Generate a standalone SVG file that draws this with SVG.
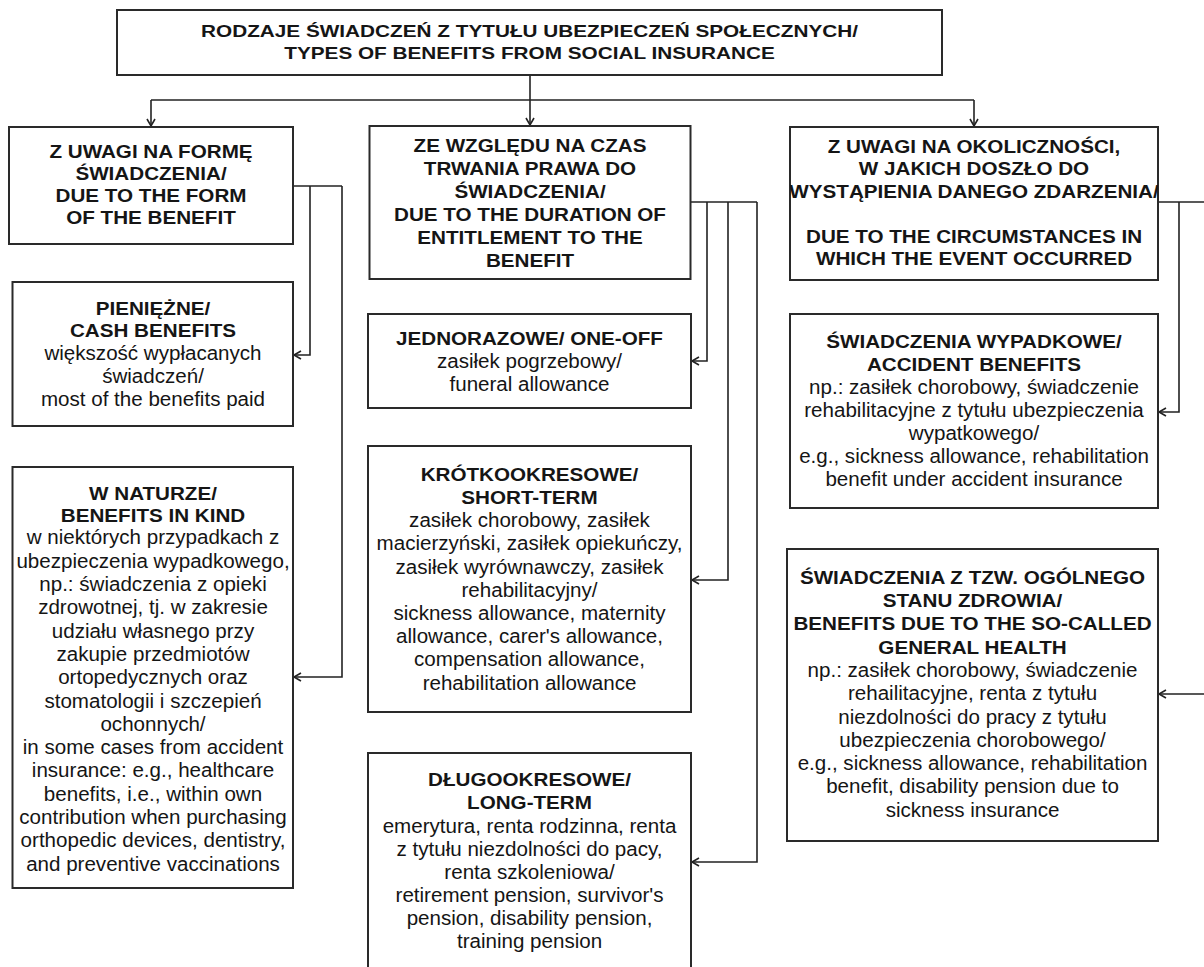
<svg xmlns="http://www.w3.org/2000/svg" width="1204" height="967" viewBox="0 0 1204 967">
<style>
.box{fill:#fff;stroke:#2a2a2a;stroke-width:2}
.c{fill:none;stroke:#222;stroke-width:1.6}
.t{font-family:"Liberation Sans",Arial,sans-serif;fill:#151515;text-anchor:middle}
.h{font-weight:bold;font-size:18.6px}
.top{font-weight:bold;font-size:17.3px}
.b{font-size:19.6px}
</style>
<defs>
<marker id="ar" markerUnits="userSpaceOnUse" markerWidth="12" markerHeight="12" viewBox="-10 -6 12 12" refX="0" refY="0" orient="auto">
<path d="M-7,-4 L0,0 L-7,4" fill="none" stroke="#222" stroke-width="1.6"/>
</marker>
<clipPath id="cr"><rect x="790" y="127" width="368" height="153"/></clipPath>
</defs>
<rect width="1204" height="967" fill="#fff"/>

<g id="connectors">
<path class="c" d="M530,75 V100"/>
<path class="c" d="M151,100 H974"/>
<path class="c" d="M151,100 V126" marker-end="url(#ar)"/>
<path class="c" d="M530,100 V125" marker-end="url(#ar)"/>
<path class="c" d="M974,100 V126" marker-end="url(#ar)"/>
<path class="c" d="M293,186 H342"/>
<path class="c" d="M310,186 V355 H294" marker-end="url(#ar)"/>
<path class="c" d="M342,186 V677 H294" marker-end="url(#ar)"/>
<path class="c" d="M691,202 H757"/>
<path class="c" d="M707,202 V361 H692" marker-end="url(#ar)"/>
<path class="c" d="M728,202 V580 H692" marker-end="url(#ar)"/>
<path class="c" d="M757,202 V862 H692" marker-end="url(#ar)"/>
<path class="c" d="M1158,202 H1215"/>
<path class="c" d="M1179,202 V412 H1159" marker-end="url(#ar)"/>
<path class="c" d="M1212,202 V694 H1159" marker-end="url(#ar)"/>
</g>

<g id="n-root">
<rect class="box" x="117" y="10" width="825" height="65"/>
<g transform="translate(529.5 0) scale(1.2 1)" class="t top">
<text x="0" y="37.5">RODZAJE ŚWIADCZEŃ Z TYTUŁU UBEZPIECZEŃ SPOŁECZNYCH/</text>
<text x="0" y="59">TYPES OF BENEFITS FROM SOCIAL INSURANCE</text>
</g>
</g>

<g id="n-form">
<rect class="box" x="9" y="127" width="284" height="117"/>
<g transform="translate(151 0) scale(1.11 1)" class="t h">
<text x="0" y="158">Z UWAGI NA FORMĘ</text>
<text x="0" y="180">ŚWIADCZENIA/</text>
<text x="0" y="202">DUE TO THE FORM</text>
<text x="0" y="224">OF THE BENEFIT</text>
</g>
</g>

<g id="n-duration">
<rect class="box" x="369.5" y="126" width="321" height="153"/>
<g transform="translate(530 0) scale(1.11 1)" class="t h">
<text x="0" y="152">ZE WZGLĘDU NA CZAS</text>
<text x="0" y="175">TRWANIA PRAWA DO</text>
<text x="0" y="198">ŚWIADCZENIA/</text>
<text x="0" y="221">DUE TO THE DURATION OF</text>
<text x="0" y="244">ENTITLEMENT TO THE</text>
<text x="0" y="267">BENEFIT</text>
</g>
</g>

<g id="n-circ">
<rect class="box" x="790" y="127" width="368" height="153"/>
<g clip-path="url(#cr)">
<g transform="translate(974 0) scale(1.11 1)" class="t h">
<text x="0" y="153">Z UWAGI NA OKOLICZNOŚCI,</text>
<text x="0" y="175.5">W JAKICH DOSZŁO DO</text>
<text x="0" y="198">WYSTĄPIENIA DANEGO ZDARZENIA/</text>
<text x="0" y="243">DUE TO THE CIRCUMSTANCES IN</text>
<text x="0" y="265.5">WHICH THE EVENT OCCURRED</text>
</g>
</g>
</g>

<g id="n-cash">
<rect class="box" x="12.5" y="282" width="280.5" height="144"/>
<g transform="translate(153 0) scale(1.11 1)" class="t h">
<text x="0" y="315">PIENIĘŻNE/</text>
<text x="0" y="337.5">CASH BENEFITS</text>
</g>
<g transform="translate(153 0) scale(1.05 1)" class="t b">
<text x="0" y="360.5">większość wypłacanych</text>
<text x="0" y="383.5">świadczeń/</text>
<text x="0" y="406.5">most of the benefits paid</text>
</g>
</g>

<g id="n-kind">
<rect class="box" x="12.5" y="467" width="280.5" height="421"/>
<g transform="translate(153 0) scale(1.11 1)" class="t h">
<text x="0" y="500">W NATURZE/</text>
<text x="0" y="522">BENEFITS IN KIND</text>
</g>
<g transform="translate(153 0) scale(1.05 1)" class="t b">
<text x="0" y="544.5">w niektórych przypadkach z</text>
<text x="0" y="567.8">ubezpieczenia wypadkowego,</text>
<text x="0" y="591.1">np.: świadczenia z opieki</text>
<text x="0" y="614.4">zdrowotnej, tj. w zakresie</text>
<text x="0" y="637.7">udziału własnego przy</text>
<text x="0" y="661">zakupie przedmiotów</text>
<text x="0" y="684.3">ortopedycznych oraz</text>
<text x="0" y="707.6">stomatologii i szczepień</text>
<text x="0" y="730.9">ochonnych/</text>
<text x="0" y="754.2">in some cases from accident</text>
<text x="0" y="777.5">insurance: e.g., healthcare</text>
<text x="0" y="800.8">benefits, i.e., within own</text>
<text x="0" y="824.1">contribution when purchasing</text>
<text x="0" y="847.4">orthopedic devices, dentistry,</text>
<text x="0" y="870.7">and preventive vaccinations</text>
</g>
</g>

<g id="n-oneoff">
<rect class="box" x="368" y="314" width="323" height="94"/>
<g transform="translate(529.5 0) scale(1.11 1)" class="t h">
<text x="0" y="345">JEDNORAZOWE/ ONE-OFF</text>
</g>
<g transform="translate(529.5 0) scale(1.05 1)" class="t b">
<text x="0" y="368">zasiłek pogrzebowy/</text>
<text x="0" y="391">funeral allowance</text>
</g>
</g>

<g id="n-short">
<rect class="box" x="368" y="446" width="323" height="266"/>
<g transform="translate(529.5 0) scale(1.11 1)" class="t h">
<text x="0" y="481.5">KRÓTKOOKRESOWE/</text>
<text x="0" y="504">SHORT-TERM</text>
</g>
<g transform="translate(529.5 0) scale(1.05 1)" class="t b">
<text x="0" y="527.3">zasiłek chorobowy, zasiłek</text>
<text x="0" y="550.5">macierzyński, zasiłek opiekuńczy,</text>
<text x="0" y="573.7">zasiłek wyrównawczy, zasiłek</text>
<text x="0" y="596.9">rehabilitacyjny/</text>
<text x="0" y="620.1">sickness allowance, maternity</text>
<text x="0" y="643.3">allowance, carer's allowance,</text>
<text x="0" y="666.5">compensation allowance,</text>
<text x="0" y="689.7">rehabilitation allowance</text>
</g>
</g>

<g id="n-long">
<rect class="box" x="368" y="753" width="323" height="230"/>
<g transform="translate(529.5 0) scale(1.11 1)" class="t h">
<text x="0" y="786.5">DŁUGOOKRESOWE/</text>
<text x="0" y="809.3">LONG-TERM</text>
</g>
<g transform="translate(529.5 0) scale(1.05 1)" class="t b">
<text x="0" y="832.7">emerytura, renta rodzinna, renta</text>
<text x="0" y="855.8">z tytułu niezdolności do pacy,</text>
<text x="0" y="878.9">renta szkoleniowa/</text>
<text x="0" y="902">retirement pension, survivor's</text>
<text x="0" y="925.1">pension, disability pension,</text>
<text x="0" y="948.2">training pension</text>
</g>
</g>

<g id="n-accident">
<rect class="box" x="790" y="314" width="368" height="194"/>
<g transform="translate(974 0) scale(1.11 1)" class="t h">
<text x="0" y="348.5">ŚWIADCZENIA WYPADKOWE/</text>
<text x="0" y="371.5">ACCIDENT BENEFITS</text>
</g>
<g transform="translate(974 0) scale(1.05 1)" class="t b">
<text x="0" y="394.5">np.: zasiłek chorobowy, świadczenie</text>
<text x="0" y="417.5">rehabilitacyjne z tytułu ubezpieczenia</text>
<text x="0" y="440.5">wypatkowego/</text>
<text x="0" y="463.5">e.g., sickness allowance, rehabilitation</text>
<text x="0" y="486.5">benefit under accident insurance</text>
</g>
</g>

<g id="n-general">
<rect class="box" x="787" y="549" width="371" height="292"/>
<g transform="translate(972.5 0) scale(1.11 1)" class="t h">
<text x="0" y="584">ŚWIADCZENIA Z TZW. OGÓLNEGO</text>
<text x="0" y="607">STANU ZDROWIA/</text>
<text x="0" y="630.5">BENEFITS DUE TO THE SO-CALLED</text>
<text x="0" y="654">GENERAL HEALTH</text>
</g>
<g transform="translate(972.5 0) scale(1.05 1)" class="t b">
<text x="0" y="677.3">np.: zasiłek chorobowy, świadczenie</text>
<text x="0" y="700.5">rehailitacyjne, renta z tytułu</text>
<text x="0" y="723.7">niezdolności do pracy z tytułu</text>
<text x="0" y="747">ubezpieczenia chorobowego/</text>
<text x="0" y="770.2">e.g., sickness allowance, rehabilitation</text>
<text x="0" y="793.4">benefit, disability pension due to</text>
<text x="0" y="816.6">sickness insurance</text>
</g>
</g>
</svg>
